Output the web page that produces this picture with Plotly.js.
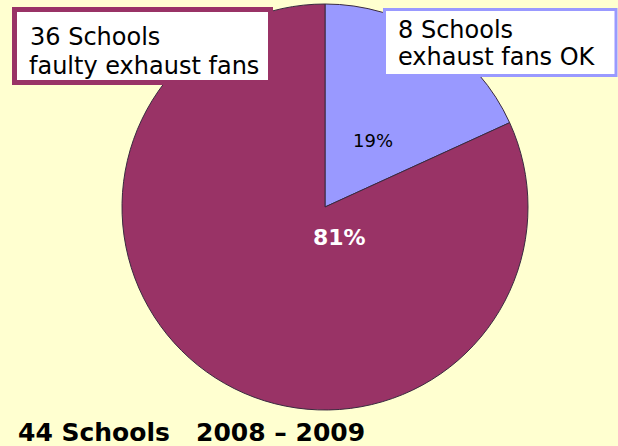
<!DOCTYPE html>
<html><head><meta charset="utf-8">
<script src="https://cdn.plot.ly/plotly-3.0.1.min.js"></script>
<style>body{margin:0;background:#FFFFD0}#c{width:618px;height:446px}</style>
</head><body><div id="c"></div>
<script>
const categories = ["8 Schools exhaust fans OK", "36 Schools faulty exhaust fans"];
const schools = [8, 36];
const pctLabels = ["19%", "81%"];
const boxLinesFaulty = ["36 Schools", "faulty exhaust fans"];
const boxLinesOK = ["8 Schools", "exhaust fans OK"];
const footer = "44 Schools   2008 – 2009";
const colors = ["#9999FF", "#993366"];
const FONT = "'Comic Sans MS', 'DejaVu Sans', sans-serif";
const W = 618, H = 446;
const px = x => x / W, py = y => 1 - y / H;

const trace = {
  type: 'pie',
  labels: categories,
  values: schools,
  sort: false,
  direction: 'clockwise',
  rotation: 0,
  textinfo: 'none',
  hoverinfo: 'label+value',
  marker: {colors: colors, line: {color: '#3a2a40', width: 1}},
  domain: {x: [122/W, 528/W], y: [36/H, 442/H]},
  showlegend: false
};

function line(text, x, y, size, color, anchor) {
  return {xref:'paper', yref:'paper', x:px(x), y:py(y), xanchor:anchor||'left', yanchor:'middle',
          text:text, showarrow:false, font:{family:FONT, size:size, color:color}};
}

const layout = {
  width: W, height: H,
  margin: {l: 0, r: 0, t: 0, b: 0},
  paper_bgcolor: '#FFFFD0',
  plot_bgcolor: '#FFFFD0',
  showlegend: false,
  shapes: [
    {type:'rect', xref:'paper', yref:'paper', x0:px(14.5), x1:px(270.5), y0:py(82.5), y1:py(9.5),
     fillcolor:'#FFFFFF', line:{color:colors[1], width:5}, layer:'above'},
    {type:'rect', xref:'paper', yref:'paper', x0:px(384.5), x1:px(616), y0:py(75.5), y1:py(9.5),
     fillcolor:'#FFFFFF', line:{color:colors[0], width:3}, layer:'above'}
  ],
  annotations: [
    line(boxLinesFaulty[0], 28, 37, 24, '#000'),
    line(boxLinesFaulty[1], 27, 66, 24, '#000'),
    line(boxLinesOK[0], 396, 30, 24, '#000'),
    line(boxLinesOK[1], 396, 57, 24, '#000'),
    line(pctLabels[0], 373, 140, 18, '#000', 'center'),
    line('<b>'+pctLabels[1]+'</b>', 339, 237, 22, '#FFFFFF', 'center'),
    line('<b>'+footer.replace(/ /g,'&nbsp;')+'</b>', 16, 432, 25, '#000')
  ]
};
Plotly.newPlot('c', [trace], layout, {displayModeBar:false, staticPlot:true});
</script></body></html>
